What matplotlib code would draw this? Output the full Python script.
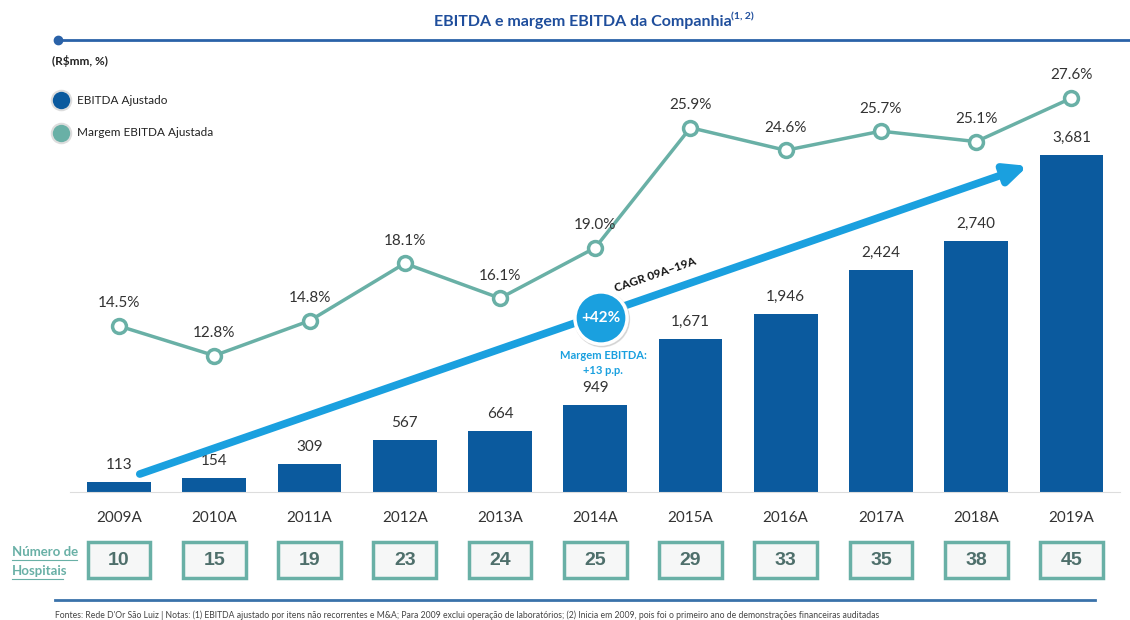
import matplotlib
matplotlib.use("Agg")
import numpy as np
from matplotlib import pyplot as plt
from matplotlib.patches import Rectangle, Circle

plt.rcParams['font.family'] = ['Lato', 'DejaVu Sans']

# dados
anos = ["2009A", "2010A", "2011A", "2012A", "2013A", "2014A",
        "2015A", "2016A", "2017A", "2018A", "2019A"]
ebitda = [113, 154, 309, 567, 664, 949, 1671, 1946, 2424, 2740, 3681]
margem = [14.5, 12.8, 14.8, 18.1, 16.1, 19.0, 25.9, 24.6, 25.7, 25.1, 27.6]
hospitais = [10, 15, 19, 23, 24, 25, 29, 33, 35, 38, 45]

azul = "#0b5a9e"
verde = "#69b0a6"
azul_claro = "#1aa0df"

W, H = 1130, 620
fig = plt.figure(figsize=(W/100, H/100), dpi=100)

def fx(px):
    return px / W

def fy(py):
    return 1 - py / H

# eixo principal (barras)
x = np.arange(len(anos))
ax = fig.add_axes([fx(70), fy(492), fx(1050), fy(60) - fy(492)])
ax.set_xlim(-0.515, 10.51)
ax.set_ylim(0, 4716)
ax.bar(x, ebitda, width=0.67, color=azul, zorder=2)
for i, v in enumerate(ebitda):
    ax.text(i, v + 110, f"{v:,}", ha="center", va="bottom", fontsize=11, color="#333333")
for s in ["top", "right", "left"]:
    ax.spines[s].set_visible(False)
ax.spines["bottom"].set_color("#dddddd")
ax.set_yticks([])
ax.set_xticks(x)
ax.set_xticklabels(anos, fontsize=11, color="#333333")
ax.tick_params(axis="x", length=0, pad=14)

# margem
ax2 = ax.twinx()
ax2.set_ylim(4.96, 29.79)
ax2.plot(x, margem, color=verde, lw=2.5, marker="o", ms=10, mfc="white",
         mec=verde, mew=2.5, zorder=3)
for i, v in enumerate(margem):
    ax2.text(i, v + 0.9, f"{v:.1f}%", ha="center", va="bottom", fontsize=11, color="#333333")
ax2.axis("off")

# seta CAGR
ax.annotate("", xy=(9.57, 3570), xytext=(0.19, 186),
            arrowprops=dict(arrowstyle="-|>,head_length=1.3,head_width=0.6",
                            color=azul_claro, lw=5.5), zorder=4)
ax.text(5.63, 2370, "CAGR 09A–19A", rotation=19, ha="center", va="center",
        fontsize=8.5, fontweight="bold", color="#111111", zorder=5)

circ = fig.add_axes([fx(571), fy(348), fx(60), fy(288) - fy(348)])
circ.set_xlim(-1.15, 1.15)
circ.set_ylim(-1.15, 1.15)
circ.set_aspect("equal")
circ.axis("off")
circ.add_patch(Circle((0.04, -0.05), 1.05, color="#c8c8c8", alpha=0.6))
circ.add_patch(Circle((0, 0), 1.0, facecolor=azul_claro, edgecolor="white", lw=2.5))
circ.text(0, 0, "+42%", ha="center", va="center", fontsize=11, fontweight="bold", color="white")

fig.text(fx(603), fy(355), "Margem EBITDA:", ha="center", va="center",
         fontsize=8, fontweight="bold", color=azul_claro)
fig.text(fx(603), fy(370), "+13 p.p.", ha="center", va="center",
         fontsize=8, fontweight="bold", color=azul_claro)

# hospitais
hax = fig.add_axes([fx(70), fy(581), fx(1050), fy(539) - fy(581)])
hax.set_xlim(-0.515, 10.51)
hax.set_ylim(0, 1)
hax.axis("off")
for i, n in enumerate(hospitais):
    hax.add_patch(Rectangle((i - 0.33, 0.08), 0.66, 0.84, facecolor="#f6f7f7",
                            edgecolor=verde, lw=2.5))
    hax.text(i, 0.48, str(n), ha="center", va="center", fontsize=14,
             fontweight="bold", color="#4e6f6b", family="Liberation Sans")
fig.text(fx(12), fy(552), "Número de", fontsize=9.5, fontweight="bold", color=verde,
         va="center")
fig.text(fx(12), fy(571), "Hospitais", fontsize=9.5, fontweight="bold", color=verde,
         va="center")
fig.add_artist(plt.Line2D([fx(12), fx(77)], [fy(560), fy(560)], color=verde, lw=0.8))
fig.add_artist(plt.Line2D([fx(12), fx(63)], [fy(579), fy(579)], color=verde, lw=0.8))

# titulo
fig.text(fx(583), fy(22), "EBITDA e margem EBITDA da Companhia", ha="center",
         va="center", fontsize=11.5, fontweight="bold", color="#1f4e9c")
fig.text(fx(731), fy(17), "(1, 2)", ha="left", va="center", fontsize=7.5,
         fontweight="bold", color="#1f4e9c")
fig.add_artist(plt.Line2D([fx(58), fx(1130)], [fy(40), fy(40)], color="#2a62a8", lw=2))
fig.add_artist(plt.Line2D([fx(58)], [fy(40)], marker="o", ms=6, color="#2a62a8"))
fig.text(fx(52), fy(61), "(R$mm, %)", fontsize=8.5, fontweight="bold", color="#222222",
         va="center")

# legenda
fig.add_artist(plt.Line2D([fx(61)], [fy(100)], marker="o", ms=14, color=azul,
                          mec="#dddddd", mew=1.5))
fig.add_artist(plt.Line2D([fx(61)], [fy(133)], marker="o", ms=14, color=verde,
                          mec="#dddddd", mew=1.5))
fig.text(fx(77), fy(100), "EBITDA Ajustado", fontsize=8.5, color="#222222", va="center")
fig.text(fx(77), fy(133), "Margem EBITDA Ajustada", fontsize=8.5, color="#222222", va="center")

# rodape
fig.add_artist(plt.Line2D([fx(55), fx(1095)], [fy(600), fy(600)], color="#3a72aa", lw=2))
fig.text(fx(55), fy(615),
         "Fontes: Rede D'Or São Luiz | Notas: (1) EBITDA ajustado por itens não recorrentes e M&A; "
         "Para 2009 exclui operação de laboratórios; (2) Inicia em 2009, pois foi o primeiro ano "
         "de demonstrações financeiras auditadas",
         fontsize=6.2, color="#444444", va="center")

fig.savefig("out.png", dpi=100)
